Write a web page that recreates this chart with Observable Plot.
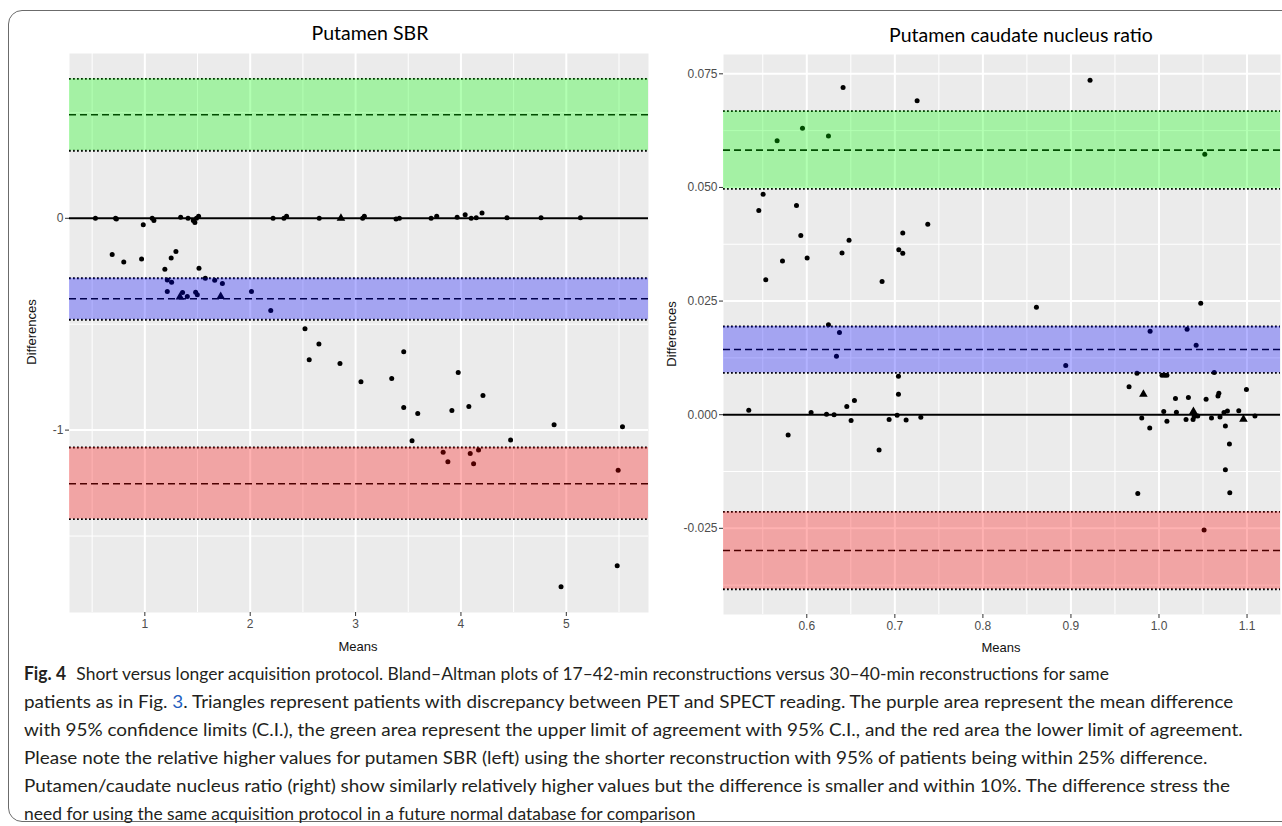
<!DOCTYPE html>
<html><head><meta charset="utf-8">
<script src="https://cdn.jsdelivr.net/npm/d3@7"></script>
<script src="https://cdn.jsdelivr.net/npm/@observablehq/plot@0.6"></script>
<style>
html,body{margin:0;padding:0;background:#fff;width:1282px;height:826px;overflow:hidden;position:relative;}
#frame{position:absolute;left:8px;top:10px;width:1310px;height:812px;border:1.5px solid #6b6b6b;border-radius:14px;box-sizing:border-box;}
.panel{position:absolute;top:0;}
.title{position:absolute;font-family:Lato,"Open Sans",sans-serif;font-size:19.5px;color:#000;transform:translate(-50%,-50%);white-space:nowrap;}
.axt{position:absolute;font-family:"Liberation Sans",Arial,sans-serif;font-size:13px;color:#111;white-space:nowrap;transform:translate(-50%,-50%);}
.axt.rot{transform:translate(-50%,-50%) rotate(-90deg);}
.cap{position:absolute;left:24px;font-family:Lato,"Open Sans",sans-serif;font-size:18px;line-height:20px;color:#231f20;white-space:nowrap;transform-origin:0 50%;}
.cap b{font-weight:700;margin-right:6px;}
.cap a{color:#1f5fbf;text-decoration:none;}
</style>
</head><body>
<div id="frame"></div>
<div id="left" class="panel" style="left:0px"></div>
<div id="right" class="panel" style="left:655px"></div>
<div class="title" style="left:370px;top:32px">Putamen SBR</div>
<div class="title" style="left:1021px;top:34px">Putamen caudate nucleus ratio</div>
<div class="axt" style="left:358px;top:646px">Means</div>
<div class="axt" style="left:1001px;top:647px">Means</div>
<div class="axt rot" style="left:31px;top:332px">Differences</div>
<div class="axt rot" style="left:671px;top:334px">Differences</div>
<div class="cap" style="top:663px"><b>Fig. 4</b> Short versus longer acquisition protocol. Bland–Altman plots of 17–42-min reconstructions versus 30–40-min reconstructions for same</div>
<div class="cap" style="top:691px">patients as in Fig. <a>3</a>. Triangles represent patients with discrepancy between PET and SPECT reading. The purple area represent the mean difference</div>
<div class="cap" style="top:719px">with 95% confidence limits (C.I.), the green area represent the upper limit of agreement with 95% C.I., and the red area the lower limit of agreement.</div>
<div class="cap" style="top:747px">Please note the relative higher values for putamen SBR (left) using the shorter reconstruction with 95% of patients being within 25% difference.</div>
<div class="cap" style="top:775px">Putamen/caudate nucleus ratio (right) show similarly relatively higher values but the difference is smaller and within 10%. The difference stress the</div>
<div class="cap" style="top:803px">need for using the same acquisition protocol in a future normal database for comparison</div>
<script>
// ---------- Putamen SBR (left) ----------
const sbrMeans = [0.531,0.722,0.73,0.985,1.07,1.086,1.34,1.41,1.46,1.475,1.49,1.51,2.217,2.32,2.345,2.655,3.067,3.083,3.384,3.416,3.717,3.77,3.964,4.04,4.097,4.145,4.2,4.437,4.76,5.134,
  0.69,0.80,0.969,1.19,1.25,1.295,1.213,1.254,1.213,1.358,1.403,1.482,1.498,1.514,1.574,1.663,1.736,2.012,2.195,2.52,2.56,2.652,2.852,3.051,3.343,3.457,3.457,3.59,3.536,3.914,3.974,4.075,4.209,
  3.831,3.876,4.088,4.12,4.167,4.471,4.884,5.533,5.492,5.483,4.95];
const sbrDiffs = [0,0,-0.003,-0.031,0,-0.01,0.005,0,-0.01,-0.02,0,0.01,0,0,0.01,0,0,0.01,-0.003,0,0,0.01,0.005,0.017,0,0.002,0.025,0.003,0.003,0.003,
  -0.171,-0.206,-0.192,-0.24,-0.187,-0.157,-0.291,-0.302,-0.346,-0.350,-0.369,-0.349,-0.361,-0.236,-0.283,-0.292,-0.308,-0.346,-0.435,-0.522,-0.668,-0.594,-0.685,-0.772,-0.756,-0.630,-0.893,-0.921,-1.050,-0.907,-0.728,-0.888,-0.836,
  -1.105,-1.149,-1.110,-1.159,-1.094,-1.047,-0.975,-0.984,-1.189,-1.640,-1.739];
const sbrTriMeans = [2.861,1.333,1.72];
const sbrTriDiffs = [0,-0.372,-0.369];
const sbrBandLow  = [0.319,-0.479,-1.420];
const sbrBandMid  = [0.489,-0.380,-1.253];
const sbrBandHigh = [0.658,-0.283,-1.082];
const sbrXDomain = [0.285,5.78];
const sbrYDomain = [-1.861,0.778];
const sbrXTicks = [1,2,3,4,5];
const sbrXMinor = [0.5,1.5,2.5,3.5,4.5,5.5];
const sbrYTicks = [-1,0];
const sbrYMinor = [-1.5,-0.5,0.5];

// ---------- Putamen caudate nucleus ratio (right) ----------
const pcrMeans = [0.5455,0.5504,0.5534,0.5663,0.5724,0.5883,0.5932,0.5951,0.6004,0.6246,0.6246,0.640,0.6412,0.648,0.6855,0.7045,0.709,0.709,0.7253,0.7374,0.8608,0.9217,
  0.6371,0.6337,0.5341,0.5788,0.6049,0.6224,0.631,0.6454,0.6503,0.6541,0.6821,0.6935,0.7026,0.7041,0.7041,0.7128,0.7295,0.8941,
  1.052,1.0474,0.9899,1.0319,1.0422,0.975,1.0627,1.0034,1.0064,1.009,0.966,1.0993,1.068,1.067,1.0187,1.0334,1.0535,1.0054,1.0198,1.0400,1.0440,1.0307,1.0387,0.9804,1.009,0.9895,1.0596,1.0693,1.0738,1.0777,1.0906,1.109,1.0754,1.080,1.0754,1.0804,0.9759,1.0512];
const pcrDiffs = [0.0449,0.0485,0.0297,0.0603,0.0338,0.0460,0.0394,0.0630,0.0345,0.0613,0.0198,0.0356,0.0720,0.0384,0.0293,0.0363,0.0400,0.0355,0.0691,0.0419,0.02365,0.0736,
  0.0181,0.01287,0.0010,-0.00444,0.0005,0.0001,0.0,0.0018,-0.00128,0.0031,-0.00774,-0.00106,-0.0001,0.00451,0.00847,-0.00114,-0.00055,0.01082,
  0.0573,0.02453,0.01837,0.01881,0.01527,0.00913,0.00928,0.0087,0.0087,0.0087,0.00616,0.00557,0.0047,0.0041,0.00357,0.0038,0.00339,0.00068,0.00053,-0.0004,-0.0003,-0.00108,-0.00108,-0.00075,-0.00143,-0.0029,-0.00075,-0.0005,0.0005,0.0008,0.00085,-0.0003,-0.0025,-0.00647,-0.01212,-0.01716,-0.01734,-0.02535];
const pcrTriMeans = [0.9823,1.0391,1.0959];
const pcrTriDiffs = [0.00449,0.0007,-0.001];
const pcrBandLow  = [0.0497,0.0092,-0.0384];
const pcrBandMid  = [0.0582,0.01434,-0.02988];
const pcrBandHigh = [0.0668,0.0194,-0.02139];
const pcrXDomain = [0.5054,1.138];
const pcrYDomain = [-0.04396,0.07925];
const pcrXTicks = [0.6,0.7,0.8,0.9,1.0,1.1];
const pcrXMinor = [0.55,0.65,0.75,0.85,0.95,1.05];
const pcrYTicks = [-0.025,0,0.025,0.05,0.075];
const pcrYMinor = [-0.0375,-0.0125,0.0125,0.0375,0.0625];

const bandColors = ["#00FF00","#0000FF","#FF0000"]; // upper LoA, mean diff, lower LoA

function panel(cfg){
  const pts = cfg.means.map((m,i)=>({x:m,y:cfg.diffs[i]}));
  const tri = cfg.triMeans.map((m,i)=>({x:m,y:cfg.triDiffs[i]}));
  const bands = cfg.low.map((lo,i)=>({lo,hi:cfg.high[i],c:bandColors[i]}));
  return Plot.plot({
    width: cfg.width, height: 650,
    marginLeft: cfg.ml, marginRight: cfg.mr, marginTop: cfg.mt, marginBottom: cfg.mb,
    style: {background:"transparent", fontFamily:"'Liberation Sans', Arial, sans-serif", overflow:"visible"},
    x: {domain: cfg.xDomain},
    y: {domain: cfg.yDomain},
    marks: [
      Plot.frame({fill:"#EBEBEB", stroke:"none"}),
      Plot.gridX(cfg.xMinor, {stroke:"white", strokeOpacity:1, strokeWidth:1}),
      Plot.gridY(cfg.yMinor, {stroke:"white", strokeOpacity:1, strokeWidth:1}),
      Plot.gridX(cfg.xTicks, {stroke:"white", strokeOpacity:1, strokeWidth:2}),
      Plot.gridY(cfg.yTicks, {stroke:"white", strokeOpacity:1, strokeWidth:2}),
      Plot.ruleY([0], {stroke:"black", strokeWidth:2}),
      Plot.dot(pts, {x:"x", y:"y", r:2.5, fill:"black", stroke:"none"}),
      Plot.dot(tri, {x:"x", y:"y", r:3.2, symbol:"triangle", fill:"black", stroke:"none"}),
      Plot.ruleY(cfg.mid, {stroke:"black", strokeWidth:1.6, strokeDasharray:"7,4"}),
      Plot.ruleY(cfg.low.concat(cfg.high), {stroke:"black", strokeWidth:1.8, strokeDasharray:"1.8,2.2"}),
      ...bands.map(b => Plot.rect([b], {x1: () => cfg.xDomain[0], x2: () => cfg.xDomain[1], y1: d => d.lo, y2: d => d.hi, fill: b.c, fillOpacity: 0.3})),
      Plot.axisX(cfg.xTicks, {tickSize:4, tickPadding:3, stroke:"#333", color:"#4d4d4d", fontSize:12, tickFormat: cfg.xFmt, label:null}),
      Plot.axisY(cfg.yTicks, {tickSize:4, tickPadding:2, stroke:"#333", color:"#4d4d4d", fontSize:12, tickFormat: cfg.yFmt, label:null})
    ]
  });
}

document.getElementById("left").appendChild(panel({
  width:655, ml:69, mr:7, mt:53, mb:38,
  means:sbrMeans, diffs:sbrDiffs, triMeans:sbrTriMeans, triDiffs:sbrTriDiffs,
  low:sbrBandLow, mid:sbrBandMid, high:sbrBandHigh,
  xDomain:sbrXDomain, yDomain:sbrYDomain, xTicks:sbrXTicks, xMinor:sbrXMinor, yTicks:sbrYTicks, yMinor:sbrYMinor,
  xFmt: d => String(d), yFmt: d => (d<0?"-":"") + Math.abs(d)
}));
document.getElementById("right").appendChild(panel({
  width:627, ml:68, mr:2, mt:54, mb:36,
  means:pcrMeans, diffs:pcrDiffs, triMeans:pcrTriMeans, triDiffs:pcrTriDiffs,
  low:pcrBandLow, mid:pcrBandMid, high:pcrBandHigh,
  xDomain:pcrXDomain, yDomain:pcrYDomain, xTicks:pcrXTicks, xMinor:pcrXMinor, yTicks:pcrYTicks, yMinor:pcrYMinor,
  xFmt: d => d.toFixed(1), yFmt: d => (d<0?"-":"") + Math.abs(d).toFixed(3)
}));

// nudge each caption line toward the width it spans in the reference layout (small, near-uniform stretch)
const capRightEdges = [1082,1265,1277,1235,1262,583];
document.querySelectorAll(".cap").forEach((el,i) => {
  const w = el.getBoundingClientRect().width;
  const s = Math.max(0.97, Math.min(1.05, (capRightEdges[i] - 24) / w));
  el.style.transform = `scaleX(${s})`;
});
</script>
</body></html>
